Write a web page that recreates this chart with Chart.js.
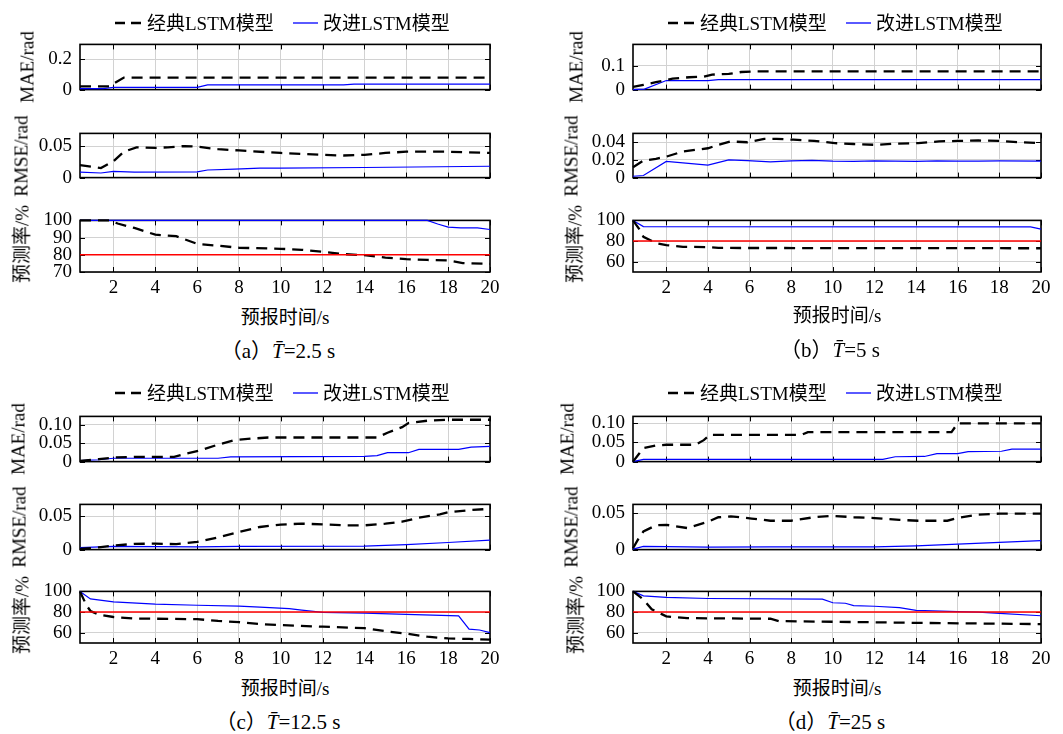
<!DOCTYPE html>
<html><head><meta charset="utf-8">
<script src="https://cdn.jsdelivr.net/npm/chart.js@4.4.0/dist/chart.umd.min.js"></script>
<style>
body{margin:0;width:1063px;height:734px;background:#fff;position:relative;overflow:hidden;font-family:'Liberation Serif','Noto Sans CJK SC',serif;color:#000;}
canvas{position:absolute;}
.t{position:absolute;font-size:19px;white-space:nowrap;line-height:1;}
.yt{transform:translate(-50%,-50%) rotate(-90deg);}
.ct{transform:translate(-50%,-50%);}
.cap{font-size:21px;}
.lt{transform:translateY(-50%);}
svg{position:absolute;overflow:visible;}
</style></head><body>
<script>
// ---------- axis ticks ----------
const xTickVals = [2,4,6,8,10,12,14,16,18,20];
const xTickLabels = ['2','4','6','8','10','12','14','16','18','20'];
const legendLabels = ['经典LSTM模型','改进LSTM模型'];
const yTitles = ['MAE/rad','RMSE/rad','预测率/%'];
const xTitle = '预报时间/s';
const captionLetters = ['a','b','c','d'];
const captionPeriods = ['2.5','5','12.5','25'];

const aMaeTicks=[0,0.2], aMaeTickLabels=['0','0.2'];
const aRmseTicks=[0,0.05], aRmseTickLabels=['0','0.05'];
const aRateTicks=[70,80,90,100], aRateTickLabels=['70','80','90','100'];
const bMaeTicks=[0,0.1], bMaeTickLabels=['0','0.1'];
const bRmseTicks=[0,0.02,0.04], bRmseTickLabels=['0','0.02','0.04'];
const bRateTicks=[60,80,100], bRateTickLabels=['60','80','100'];
const cMaeTicks=[0,0.05,0.10], cMaeTickLabels=['0','0.05','0.10'];
const cRmseTicks=[0,0.05], cRmseTickLabels=['0','0.05'];
const cRateTicks=[60,80,100], cRateTickLabels=['60','80','100'];
const dMaeTicks=[0,0.05,0.10], dMaeTickLabels=['0','0.05','0.10'];
const dRmseTicks=[0,0.05], dRmseTickLabels=['0','0.05'];
const dRateTicks=[60,80,100], dRateTickLabels=['60','80','100'];

// ---------- threshold ----------
const thresholdT=[0.4,20], threshold=[80,80];

// ---------- (a) T=2.5 s ----------
const a_mae_classic_t=[0.4,1.8,2.5,20];
const a_mae_classic=[0.022,0.022,0.08,0.08];
const a_mae_improved_t=[0.4,1.5,2,6,6.5,13,13.5,20];
const a_mae_improved=[0.007,0.007,0.015,0.015,0.031,0.031,0.036,0.036];
const a_rmse_classic_t=[0.4,1.4,2,2.5,3.1,4,4.6,5.4,6,7,8,10,12,13,14,15,16,17,18,20];
const a_rmse_classic=[0.0196,0.0151,0.026,0.041,0.048,0.047,0.048,0.050,0.049,0.045,0.043,0.039,0.036,0.035,0.036,0.039,0.041,0.041,0.041,0.039];
const a_rmse_improved_t=[0.4,1.4,2,3,6,6.5,7.8,9,10,14,20];
const a_rmse_improved=[0.0087,0.0073,0.0099,0.0087,0.009,0.012,0.0135,0.015,0.015,0.016,0.018];
const a_rate_classic_t=[0.4,1.8,2.2,3,4,5,6,6.8,8,10,11,12,13,14.1,15,16,17,18,18.7,20];
const a_rate_classic=[100,100,98.2,95.6,91.7,90.8,86.4,85.5,84.1,83.5,82.9,81.8,80.4,79.7,78.4,77.5,77,76.7,75.2,74.7];
const a_rate_improved_t=[0.4,17,17.5,18,18.6,19.4,20];
const a_rate_improved=[100,100,97.9,96.1,95.6,95.6,94.7];

// ---------- (b) T=5 s ----------
const b_mae_classic_t=[0.4,0.9,1.5,2.3,3.1,3.8,4.2,5,5.6,6.3,20];
const b_mae_classic=[0.011,0.02,0.031,0.046,0.052,0.054,0.063,0.066,0.074,0.077,0.077];
const b_mae_improved_t=[0.4,0.95,2,4,4.5,20];
const b_mae_improved=[0,0.002,0.038,0.038,0.042,0.042];
const b_rmse_classic_t=[0.4,0.9,1.5,2,2.8,4,4.5,5.1,5.9,6.7,7.3,8.1,9.1,10.1,11,12.1,13.1,14.1,15.1,16,17,18,19,20];
const b_rmse_classic=[0.0118,0.0192,0.0213,0.0237,0.0296,0.0332,0.037,0.0409,0.040,0.0438,0.0438,0.0429,0.0415,0.039,0.038,0.037,0.0385,0.039,0.041,0.0415,0.042,0.0415,0.040,0.039];
const b_rmse_improved_t=[0.4,0.9,2,4,5,5.9,7,8,9,10,11,12,13,14,15,16,17,18,20];
const b_rmse_improved=[0.0015,0.0024,0.0183,0.0142,0.0201,0.0192,0.0178,0.019,0.0195,0.0186,0.0183,0.019,0.0186,0.0183,0.0189,0.0186,0.0186,0.0189,0.0186];
const b_rate_classic_t=[0.4,0.7,0.9,1.5,2,2.8,4,4.5,20];
const b_rate_classic=[100,91.6,84.1,78,76,74.4,74.1,73.3,73];
const b_rate_improved_t=[0.4,0.9,19.5,20];
const b_rate_improved=[100,94,93.7,91.6];

// ---------- (c) T=12.5 s ----------
const c_mae_classic_t=[0.4,1.3,2,3,4.9,5.5,6.2,7,7.8,8.6,9.4,14.6,15.1,15.8,16.1,17.1,18,20];
const c_mae_classic=[0.002,0.0067,0.011,0.013,0.013,0.022,0.031,0.046,0.058,0.062,0.065,0.065,0.078,0.093,0.104,0.111,0.113,0.113];
const c_mae_improved_t=[0.4,1.3,2,7,7.6,14,14.6,15.1,16.1,16.6,18.5,19.1,20];
const c_mae_improved=[0.003,0.005,0.009,0.009,0.013,0.014,0.016,0.024,0.024,0.033,0.033,0.039,0.041];
const c_rmse_classic_t=[0.4,1.3,2,3,4,5,6,7,8,9,10,11,12,13,14,15,15.8,16.6,17.6,18,19,20];
const c_rmse_classic=[0.001,0.0033,0.0061,0.0086,0.009,0.0082,0.0115,0.0184,0.0266,0.034,0.0377,0.039,0.038,0.0365,0.0365,0.039,0.042,0.048,0.053,0.0561,0.0593,0.0614];
const c_rmse_improved_t=[0.4,2,6,8,14,16,18,20];
const c_rmse_improved=[0.0029,0.0049,0.0041,0.0049,0.0053,0.0074,0.0107,0.0143];
const c_rate_classic_t=[0.4,0.7,0.9,1.3,2,3,6,7,8,9,10,12,14,15,16,17,18,19,20];
const c_rate_classic=[100,86.8,81,77.5,75.2,73.7,73.1,71.4,70.2,68.4,67.3,65.8,64.4,61.4,59.1,56.1,54.4,53.9,53.2];
const c_rate_improved_t=[0.4,0.9,2,4,6,8,9,10.4,11,12,14,16,18.5,19,19.5,20];
const c_rate_improved=[100,92.7,89.8,87.7,86.6,85.7,84.8,83.3,81.9,79.6,79,77.8,76.3,63.5,62.6,60];

// ---------- (d) T=25 s ----------
const d_mae_classic_t=[0.4,0.7,0.9,1.5,2,3.4,3.8,4.1,8.5,8.8,15.7,16,20];
const d_mae_classic=[0,0.021,0.035,0.042,0.044,0.044,0.056,0.070,0.070,0.077,0.077,0.10,0.10];
const d_mae_improved_t=[0.4,0.9,12.4,13,14.4,15,16,16.5,18.1,18.6,20];
const d_mae_improved=[0,0.0057,0.0057,0.0127,0.0134,0.021,0.021,0.026,0.027,0.0325,0.0325];
const d_rmse_classic_t=[0.4,0.7,0.9,1.5,2,3,4,4.5,5.1,6.1,7,8,9.1,10,11,12,13.2,14.1,15.5,16,17,18,20];
const d_rmse_classic=[0.0019,0.0167,0.0248,0.0333,0.034,0.0296,0.0381,0.0444,0.0456,0.0426,0.0396,0.0396,0.0444,0.0463,0.0444,0.0433,0.0407,0.0396,0.0396,0.0433,0.0481,0.0493,0.0493];
const d_rmse_improved_t=[0.4,0.9,2,4,7,12,14,16,18,20];
const d_rmse_improved=[0.0007,0.0044,0.0041,0.0033,0.0037,0.0037,0.0052,0.0074,0.01,0.0122];
const d_rate_classic_t=[0.4,0.9,1.3,2,3,7,7.4,10,14.1,20];
const d_rate_classic=[100,92.2,82.7,75.8,74.1,73.5,71.2,70.6,69.5,68.3];
const d_rate_improved_t=[0.4,0.9,2,4,9.5,10,10.6,11,12,13.2,14,16,17,18,20];
const d_rate_improved=[100,95.7,94.2,93.1,92.5,89,88.5,86.2,85.6,84.2,81.6,80.4,79.9,78.7,76.4];

// ---------- layout ----------
const FONT = "'Liberation Serif','Noto Sans CJK SC',serif";
const FS = 19;
const GRID = '#d2d2d2';
const pts = (t,v)=>t.map((x,i)=>({x:x,y:v[i]}));

const framePlugin = {
  id:'frame',
  beforeDatasetsDraw(c){
    const {ctx, chartArea:a} = c;
    const xs=c.scales.x, ys=c.scales.y;
    ctx.save();
    ctx.strokeStyle='#000'; ctx.lineWidth=1;
    ctx.beginPath();
    xs.ticks.forEach(t=>{const p=Math.round(xs.getPixelForValue(t.value))+0.5;
      ctx.moveTo(p,a.top); ctx.lineTo(p,a.top+5); ctx.moveTo(p,a.bottom); ctx.lineTo(p,a.bottom-5);});
    ys.ticks.forEach(t=>{const p=Math.round(ys.getPixelForValue(t.value))+0.5;
      ctx.moveTo(a.left,p); ctx.lineTo(a.left+5,p); ctx.moveTo(a.right,p); ctx.lineTo(a.right-5,p);});
    ctx.stroke();
    ctx.lineWidth=1.6;
    ctx.strokeRect(a.left,a.top,a.right-a.left,a.bottom-a.top);
    ctx.restore();
  }
};

function makeChart(plotLeft, plotTop, plotW, plotH, isRate, yMin, yMax, yTicks, yTickLabels, classic, improved){
  const PADT=14, YW=70, PADR=18, XH=isRate?30:0, PADB=isRate?4:14;
  const cv=document.createElement('canvas');
  cv.width=YW+plotW+PADR; cv.height=PADT+plotH+XH+PADB;
  cv.style.left=(plotLeft-YW)+'px'; cv.style.top=(plotTop-PADT)+'px';
  document.body.appendChild(cv);
  const ds=[];
  if(isRate) ds.push({data:pts(thresholdT,threshold), borderColor:'#ff0000', borderWidth:1.6});
  ds.push({data:classic, borderColor:'#000', borderWidth:2.3, borderDash:[11,7]});
  ds.push({data:improved, borderColor:'#0000ff', borderWidth:1.2});
  new Chart(cv,{
    type:'line',
    data:{datasets:ds.map(d=>Object.assign({pointRadius:0,tension:0,fill:false,clip:false},d))},
    options:{
      responsive:false, animation:false, devicePixelRatio:1,
      layout:{padding:{left:0,right:PADR,top:PADT,bottom:PADB}},
      plugins:{legend:{display:false},tooltip:{enabled:false}},
      scales:{
        x:{type:'linear',min:0.4,max:20,
          afterFit:s=>{s.height=XH;},
          afterBuildTicks:s=>{s.ticks=xTickVals.map(v=>({value:v}));},
          ticks:{display:isRate,color:'#000',font:{family:FONT,size:FS},padding:5,maxRotation:0,autoSkip:false,
            callback:v=>xTickLabels[xTickVals.indexOf(v)]},
          grid:{color:GRID,lineWidth:1,drawTicks:false},
          border:{display:false}},
        y:{type:'linear',min:yMin,max:yMax,
          afterFit:s=>{s.width=YW;},
          afterBuildTicks:s=>{s.ticks=yTicks.map(v=>({value:v}));},
          ticks:{color:'#000',font:{family:FONT,size:FS},padding:8,autoSkip:false,
            callback:v=>yTickLabels[yTicks.indexOf(v)]},
          grid:{color:GRID,lineWidth:1,drawTicks:false},
          border:{display:false}}
      }
    },
    plugins:[framePlugin]
  });
}

function text(html, x, y, cls){
  const d=document.createElement('div');
  d.className='t '+cls; d.innerHTML=html;
  d.style.left=x+'px'; d.style.top=y+'px';
  document.body.appendChild(d);
}
function legend(x0, y){
  const s=document.createElementNS('http://www.w3.org/2000/svg','svg');
  s.setAttribute('width','1'); s.setAttribute('height','1');
  s.style.left='0px'; s.style.top='0px';
  s.innerHTML=`<line x1="${x0}" y1="${y}" x2="${x0+26}" y2="${y}" stroke="#000" stroke-width="2.5" stroke-dasharray="10 6"/>`+
    `<line x1="${x0+178}" y1="${y}" x2="${x0+203}" y2="${y}" stroke="#0000ff" stroke-width="1.3"/>`;
  document.body.appendChild(s);
  text(legendLabels[0], x0+32, y, 'lt');
  text(legendLabels[1], x0+208, y, 'lt');
}

const panels=[
  {L:80,W:410,rows:[[39,56],[128,55],[215,57]],
   ranges:[[0,0.3],[0,0.07],[70,100]],
   ticks:[[aMaeTicks,aMaeTickLabels],[aRmseTicks,aRmseTickLabels],[aRateTicks,aRateTickLabels]],
   data:[[a_mae_classic_t,a_mae_classic,a_mae_improved_t,a_mae_improved],
         [a_rmse_classic_t,a_rmse_classic,a_rmse_improved_t,a_rmse_improved],
         [a_rate_classic_t,a_rate_classic,a_rate_improved_t,a_rate_improved]],
   ytx:[27,21,22], legX:115, legY:23, xtY:317, capY:351},
  {L:633,W:408,rows:[[39,56],[128,55],[215,57]],
   ranges:[[0,0.19],[0,0.05],[50,100]],
   ticks:[[bMaeTicks,bMaeTickLabels],[bRmseTicks,bRmseTickLabels],[bRateTicks,bRateTickLabels]],
   data:[[b_mae_classic_t,b_mae_classic,b_mae_improved_t,b_mae_improved],
         [b_rmse_classic_t,b_rmse_classic,b_rmse_improved_t,b_rmse_improved],
         [b_rate_classic_t,b_rate_classic,b_rate_improved_t,b_rate_improved]],
   ytx:[576,571,575], legX:668, legY:23, xtY:315, capY:350},
  {L:80,W:410,rows:[[411,56],[499,56],[586,57]],
   ranges:[[0,0.122],[0,0.068],[50,100]],
   ticks:[[cMaeTicks,cMaeTickLabels],[cRmseTicks,cRmseTickLabels],[cRateTicks,cRateTickLabels]],
   data:[[c_mae_classic_t,c_mae_classic,c_mae_improved_t,c_mae_improved],
         [c_rmse_classic_t,c_rmse_classic,c_rmse_improved_t,c_rmse_improved],
         [c_rate_classic_t,c_rate_classic,c_rate_improved_t,c_rate_improved]],
   ytx:[18,19,22], legX:115, legY:393, xtY:688, capY:722},
  {L:633,W:408,rows:[[411,56],[499,56],[586,57]],
   ranges:[[0,0.118],[0,0.062],[50,100]],
   ticks:[[dMaeTicks,dMaeTickLabels],[dRmseTicks,dRmseTickLabels],[dRateTicks,dRateTickLabels]],
   data:[[d_mae_classic_t,d_mae_classic,d_mae_improved_t,d_mae_improved],
         [d_rmse_classic_t,d_rmse_classic,d_rmse_improved_t,d_rmse_improved],
         [d_rate_classic_t,d_rate_classic,d_rate_improved_t,d_rate_improved]],
   ytx:[567,571,576], legX:668, legY:393, xtY:688, capY:722}
];

panels.forEach((p,pi)=>{
  p.rows.forEach((r,ri)=>{
    const dd=p.data[ri];
    makeChart(p.L, r[0], p.W, r[1], ri===2, p.ranges[ri][0], p.ranges[ri][1],
      p.ticks[ri][0], p.ticks[ri][1], pts(dd[0],dd[1]), pts(dd[2],dd[3]));
    text(yTitles[ri], p.ytx[ri], r[0]+r[1]/2, 'yt');
  });
  legend(p.legX, p.legY);
  text(xTitle, p.L+p.W/2, p.xtY, 'ct');
  text('（'+captionLetters[pi]+'）<i>T̄</i>='+captionPeriods[pi]+' s', p.L+p.W/2-7, p.capY, 'ct cap');
});
</script>
</body></html>
